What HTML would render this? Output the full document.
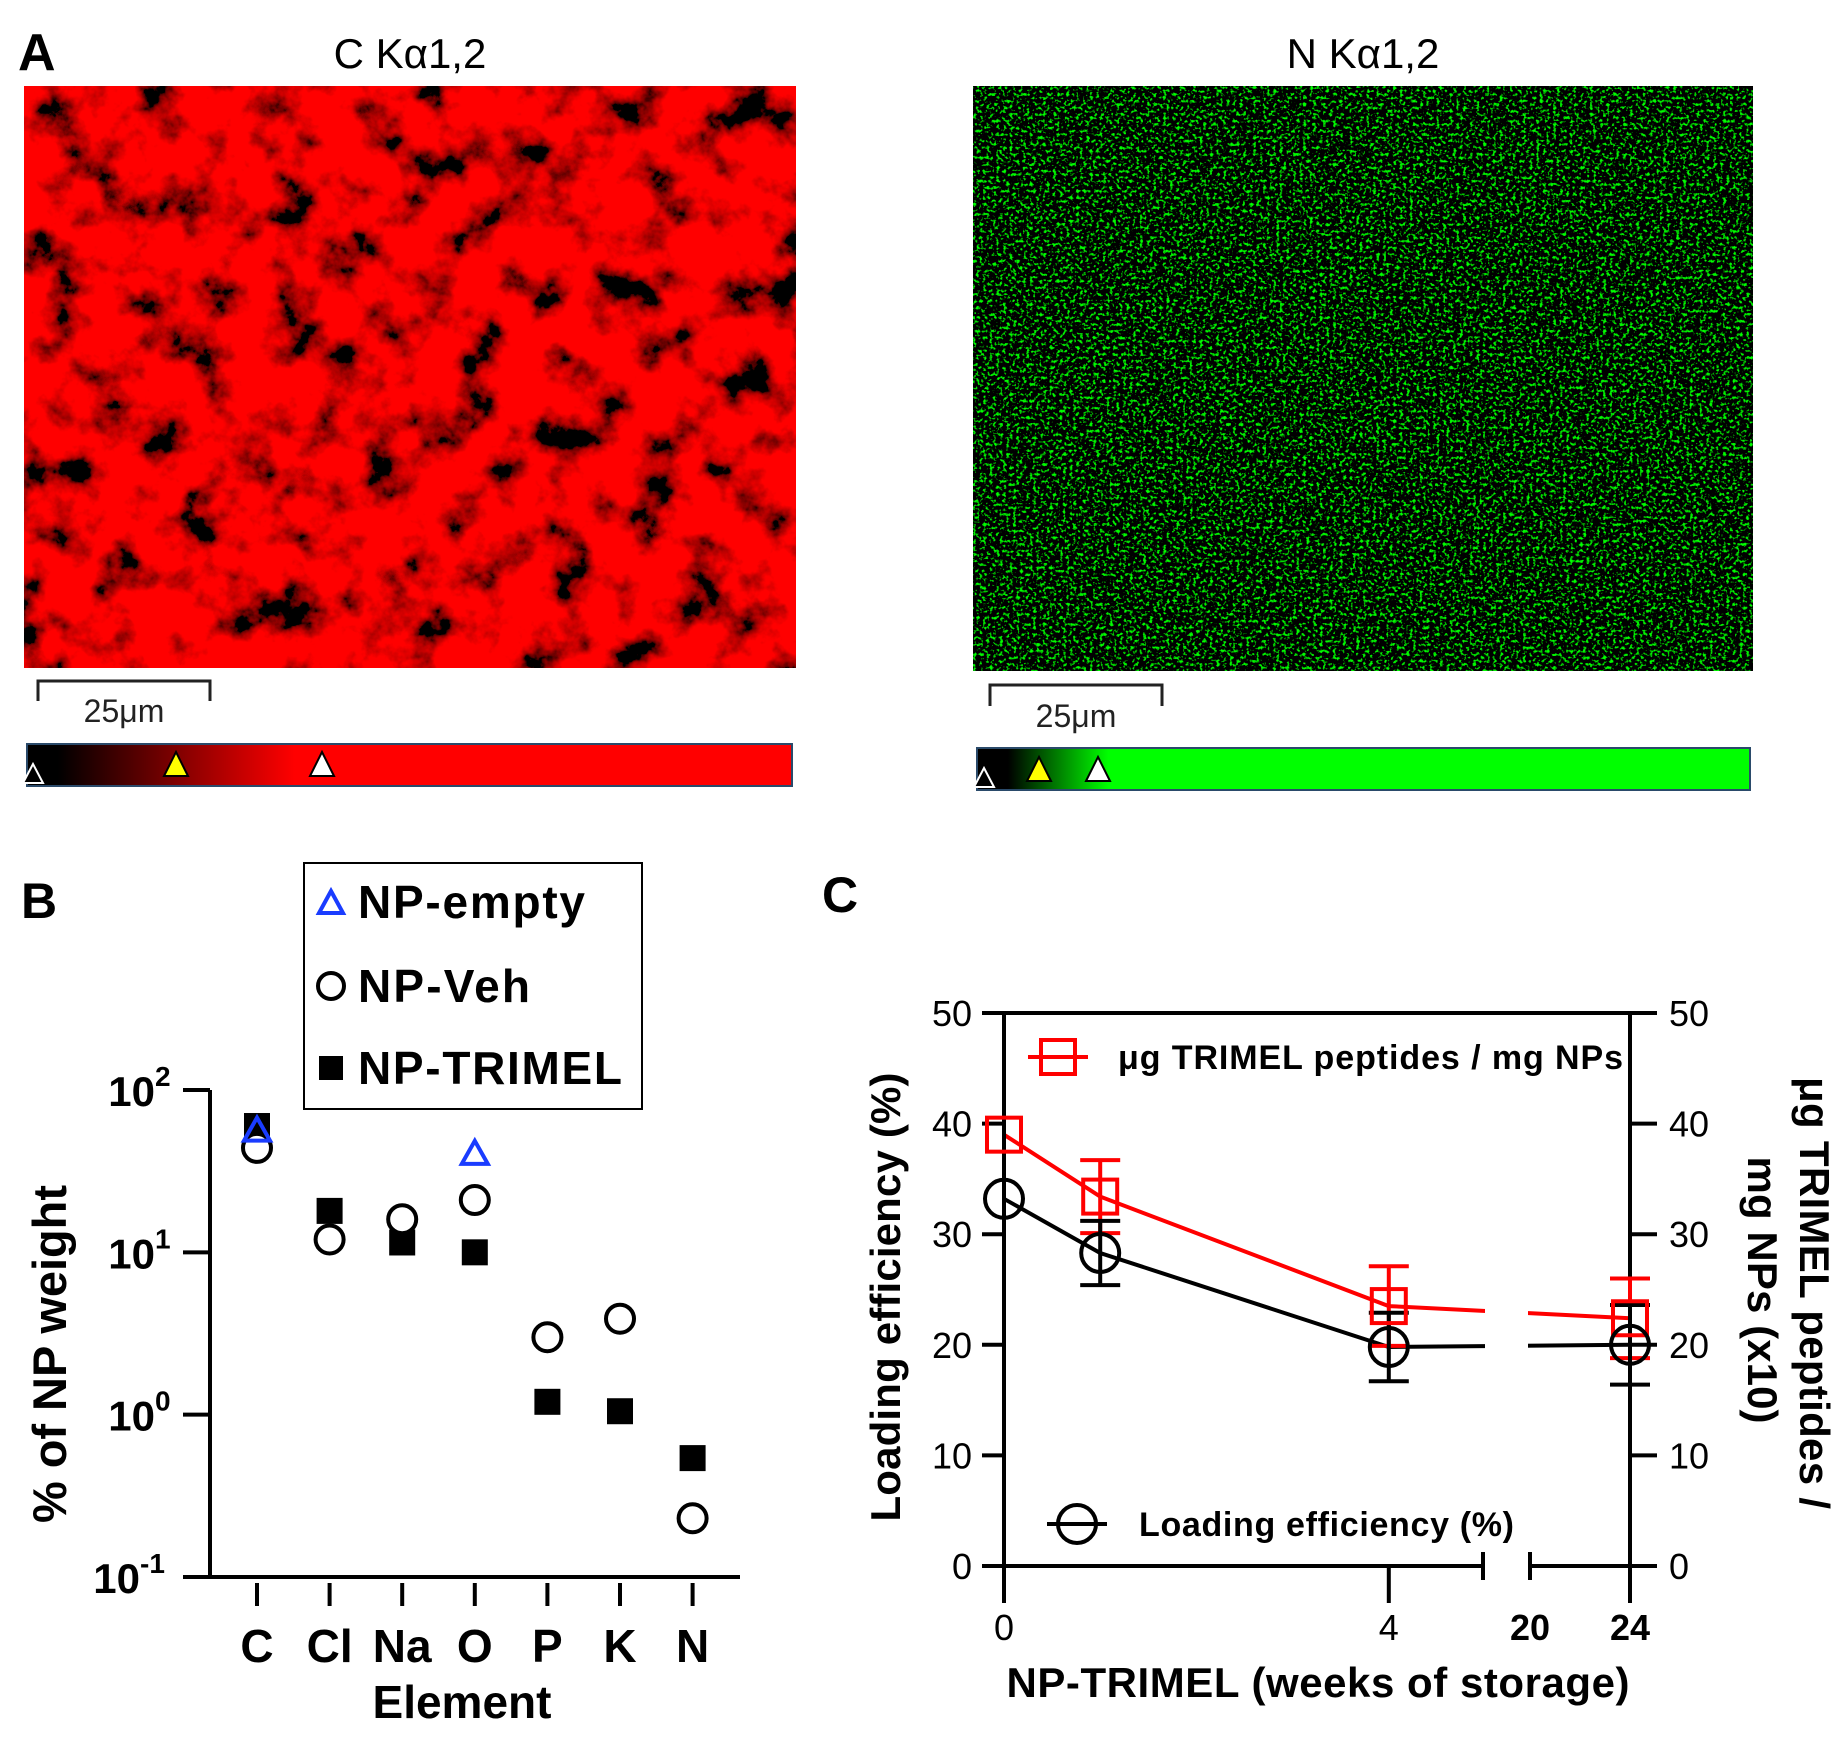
<!DOCTYPE html>
<html><head><meta charset="utf-8">
<style>
html,body{margin:0;padding:0;background:#fff;}
svg{display:block;}
text{font-family:"Liberation Sans",sans-serif;}
.n{font-family:"Liberation Sans Narrow","Liberation Sans",sans-serif;}
</style></head>
<body>
<svg id="fig" width="1846" height="1737" viewBox="0 0 1846 1737" xmlns="http://www.w3.org/2000/svg">
<defs>
<filter id="redTex" x="0" y="0" width="100%" height="100%">
<feTurbulence type="fractalNoise" baseFrequency="0.022" numOctaves="5" seed="7"/>
<feColorMatrix type="matrix" values="4.0 0 0 0 -1.15  0 0 0 0 0  0 0 0 0 0  0 0 0 0 1"/>
</filter>
<filter id="greenTex" x="0" y="0" width="100%" height="100%">
<feTurbulence type="fractalNoise" baseFrequency="0.3" numOctaves="2" seed="3"/>
<feColorMatrix type="matrix" values="0 0 0 0 0  0 5 0 0 -2.75  0 0 0 0 0  0 0 0 0 1"/>
</filter>
<linearGradient id="redGrad" x1="0" x2="1"><stop offset="0" stop-color="#000"/><stop offset="0.04" stop-color="#000"/><stop offset="0.35" stop-color="#ff0000"/><stop offset="1" stop-color="#ff0000"/></linearGradient>
<linearGradient id="greenGrad" x1="0" x2="1"><stop offset="0" stop-color="#000"/><stop offset="0.04" stop-color="#000"/><stop offset="0.17" stop-color="#00ff00"/><stop offset="1" stop-color="#00ff00"/></linearGradient>
</defs>

<!-- Panel A -->
<g>
<text x="18" y="70" font-size="52" font-weight="bold">A</text>
<text x="410" y="68" font-size="42" text-anchor="middle">C Kα1,2</text>
<rect x="24" y="86" width="772" height="582" fill="#c00" filter="url(#redTex)"/>
<path d="M38,701 V681 H210 V701" fill="none" stroke="#222" stroke-width="3"/>
<text x="124" y="722" font-size="32" text-anchor="middle" fill="#222">25μm</text>
<rect x="27" y="744" width="765" height="42" fill="url(#redGrad)" stroke="#2a4a6a" stroke-width="2"/>
<polygon points="33,764 43,783 23,783" fill="#000" stroke="#fff" stroke-width="2"/>
<polygon points="176,752 188,776 164,776" fill="#ff0" stroke="#000" stroke-width="2"/>
<polygon points="322,752 334,776 310,776" fill="#fff" stroke="#000" stroke-width="2"/>

<text x="1363" y="68" font-size="42" text-anchor="middle">N Kα1,2</text>
<rect x="973" y="86" width="780" height="585" fill="#000"/>
<rect x="973" y="86" width="780" height="585" filter="url(#greenTex)"/>
<path d="M990,706 V685 H1162 V706" fill="none" stroke="#222" stroke-width="3"/>
<text x="1076" y="727" font-size="32" text-anchor="middle" fill="#222">25μm</text>
<rect x="977" y="748" width="773" height="42" fill="url(#greenGrad)" stroke="#2a4a6a" stroke-width="2"/>
<polygon points="984,768 994,787 974,787" fill="#000" stroke="#fff" stroke-width="2"/>
<polygon points="1039,757 1051,781 1027,781" fill="#ff0" stroke="#000" stroke-width="2"/>
<polygon points="1098,757 1110,781 1086,781" fill="#fff" stroke="#000" stroke-width="2"/>
</g>

<g id="panelB"></g>
<g id="panelC"></g>
</svg>

<script>
// ---------- Panel B data ----------
const elements = ["C","Cl","Na","O","P","K","N"];
const npEmpty = [57, null, null, 41, null, null, null];
const npVeh = [44, 12, 16, 21, 3.0, 3.9, 0.23];
const npTrimel = [60, 18, 11.5, 10, 1.2, 1.05, 0.54];
const bTickExps = ["2","1","0","-1"];

// ---------- Panel C data ----------
const weeks = [0, 1, 4, 24];
const loadEff = [33.2, 28.3, 19.8, 20.0];
const loadEffErr = [0, 2.9, 3.1, 3.6];
const peptide = [39.0, 33.4, 23.5, 22.4];
const peptideErr = [0, 3.3, 3.6, 3.6];
const cTicks = [0, 10, 20, 30, 40, 50];
const xTickWeeks = [0, 4, 20, 24];

const NS = "http://www.w3.org/2000/svg";
function mk(parent, tag, attrs, txt){
  const e = document.createElementNS(NS, tag);
  for (const k in attrs) e.setAttribute(k, attrs[k]);
  if (txt !== undefined) e.textContent = txt;
  parent.appendChild(e);
  return e;
}

// ---------- Panel B ----------
(function(){
  const g = document.getElementById('panelB');
  const x0 = 210, x1 = 740, yTop = 1090, yBot = 1577;
  const catX = i => 257 + i * 72.6;
  const yB = v => yBot - (Math.log10(v) + 1) / 3 * (yBot - yTop);

  let t = mk(g,'text',{x:21,y:918,'font-size':50,'font-weight':'bold'},'B');
  
  

  let ax = mk(g,'path',{d:`M${x0},${yTop} V${yBot} H${x1}`,fill:'none',stroke:'#000','stroke-width':4});
  
  

  bTickExps.forEach((ex) => {
    const v = Math.pow(10, +ex);
    const y = yB(v);
    const tk = mk(g,'line',{x1:183,x2:x0,y1:y,y2:y,stroke:'#000','stroke-width':4});
    
    
    const lb = mk(g,'text',{x:ex==="-1"?140:155,y:y+16,'font-size':42,'font-weight':'bold','text-anchor':'end'},'10');
    
    
    const sp = mk(g,'text',{x:ex==="-1"?140:155,y:y-4,'font-size':28,'font-weight':'bold'},ex);
    
    
  });

  elements.forEach((el,i) => {
    const x = catX(i);
    const tk = mk(g,'line',{x1:x,x2:x,y1:1583,y2:1606,stroke:'#000','stroke-width':4});
    
    
    const lb = mk(g,'text',{x:x,y:1662,'font-size':46,'font-weight':'bold','text-anchor':'middle'},el);
    
    
  });

  t = mk(g,'text',{x:462,y:1718,'font-size':46,'font-weight':'bold','text-anchor':'middle'},'Element');
  
  
  t = mk(g,'text',{x:0,y:0,'font-size':47,'font-weight':'bold','text-anchor':'middle',textLength:338,transform:'translate(66,1354) rotate(-90)'},'% of NP weight');
  
  

  npTrimel.forEach((v,i) => {
    if (v == null) return;
    const m = mk(g,'rect',{x:catX(i)-13,y:yB(v)-13,width:26,height:26,fill:'#000'});
    
    
  });
  npVeh.forEach((v,i) => {
    if (v == null) return;
    const m = mk(g,'circle',{cx:catX(i),cy:yB(v),r:14,fill:'#fff',stroke:'#000','stroke-width':4});
    
    
  });
  npEmpty.forEach((v,i) => {
    if (v == null) return;
    const x = catX(i), y = yB(v);
    const m = mk(g,'polygon',{points:`${x},${y-12} ${x+13},${y+11} ${x-13},${y+11}`,fill:'none',stroke:'#1a3cff','stroke-width':4});
    
    
  });

  const lg = mk(g,'g',{});
  
  
  const bx = mk(lg,'rect',{x:304,y:863,width:338,height:246,fill:'#fff',stroke:'#000','stroke-width':2});
  
  
  let m = mk(lg,'polygon',{points:'331,891 343,913 319,913',fill:'none',stroke:'#1a3cff','stroke-width':4});
  
  
  m = mk(lg,'circle',{cx:331,cy:986,r:13,fill:'#fff',stroke:'#000','stroke-width':4});
  
  
  m = mk(lg,'rect',{x:319,y:1056,width:24,height:24,fill:'#000'});
  
  
  const labs = [['NP-empty',918,227],['NP-Veh',1002,172],['NP-TRIMEL',1084,264]];
  labs.forEach(([s,y,w]) => {
    const e = mk(lg,'text',{x:358,y:y,'font-size':46,'font-weight':'bold',textLength:w},s);
    
    
  });
})();

// ---------- Panel C ----------
(function(){
  const g = document.getElementById('panelC');
  const xL = 1004, xR = 1630, yTop = 1013, yBot = 1566;
  const breakL = 1483, breakR = 1530;
  const xC = w => w <= 5 ? xL + w * 96.2 : breakR + (w - 20) * 25;
  const yC = v => yBot - v / 50 * (yBot - yTop);

  let t = mk(g,'text',{x:822,y:912,'font-size':50,'font-weight':'bold'},'C');
  
  

  const linePts = (arr) => weeks.map((w,i) => `${xC(w)},${yC(arr[i])}`).join(' ');
  let l = mk(g,'polyline',{points:linePts(peptide),fill:'none',stroke:'#ff0000','stroke-width':4});
  
  
  l = mk(g,'polyline',{points:linePts(loadEff),fill:'none',stroke:'#000','stroke-width':4});
  
  
  const gap = mk(g,'rect',{x:breakL+2,y:yTop+5,width:breakR-breakL-4,height:yBot-yTop-10,fill:'#fff'});
  
  

  let a = mk(g,'path',{d:`M${xL},${yBot} V${yTop} H${xR} V${yBot}`,fill:'none',stroke:'#000','stroke-width':4});
  
  
  a = mk(g,'path',{d:`M${xL},${yBot} H${breakL} M${breakL},1552 V1580 M${breakR},1552 V1580 M${breakR},${yBot} H${xR}`,fill:'none',stroke:'#000','stroke-width':4});
  
  

  cTicks.forEach(v => {
    const y = yC(v);
    let e = mk(g,'line',{x1:982,x2:xL,y1:y,y2:y,stroke:'#000','stroke-width':4});
    
    
    e = mk(g,'line',{x1:xR,x2:1657,y1:y,y2:y,stroke:'#000','stroke-width':4});
    
    
    e = mk(g,'text',{x:972,y:y+13,'font-size':36,'text-anchor':'end','class':'n'},String(v));
    
    
    e = mk(g,'text',{x:1669,y:y+13,'font-size':36,'class':'n'},String(v));
    
    
  });

  xTickWeeks.forEach(w => {
    const x = xC(w);
    const bold = w >= 20;
    if (w !== 20) {
      const e = mk(g,'line',{x1:x,x2:x,y1:yBot,y2:1603,stroke:'#000','stroke-width':4});
      
      
    }
    const e = mk(g,'text',{x:x,y:1640,'font-size':36,'text-anchor':'middle','font-weight':bold?'bold':'normal','class':'n'},String(w));
    
    
  });

  function errBars(arr, err, color, name){
    weeks.forEach((w,i) => {
      if (!err[i]) return;
      const x = xC(w), y1 = yC(arr[i]-err[i]), y2 = yC(arr[i]+err[i]);
      const e = mk(g,'path',{d:`M${x},${y1} V${y2} M${x-20},${y1} H${x+20} M${x-20},${y2} H${x+20}`,fill:'none',stroke:color,'stroke-width':4});
      
      
    });
  }
  errBars(peptide, peptideErr, '#ff0000', 'peptide-error-bar');
  errBars(loadEff, loadEffErr, '#000', 'loading-efficiency-error-bar');
  weeks.forEach((w,i) => {
    const e = mk(g,'rect',{x:xC(w)-17,y:yC(peptide[i])-17,width:34,height:34,fill:'none',stroke:'#ff0000','stroke-width':4});
    
    
  });
  weeks.forEach((w,i) => {
    const e = mk(g,'circle',{cx:xC(w),cy:yC(loadEff[i]),r:19,fill:'none',stroke:'#000','stroke-width':4});
    
    
  });

  let e = mk(g,'path',{d:'M1028,1057 H1088 M1041,1040 h34 v34 h-34 z',fill:'none',stroke:'#ff0000','stroke-width':4});
  
  
  e = mk(g,'text',{x:1118,y:1069,'font-size':34,'font-weight':'bold',textLength:505,'class':'n'},'μg TRIMEL peptides / mg NPs');
  
  
  e = mk(g,'path',{d:'M1047,1524 H1107',fill:'none',stroke:'#000','stroke-width':4});
  
  
  e = mk(g,'circle',{cx:1077,cy:1524,r:19,fill:'none',stroke:'#000','stroke-width':4});
  
  
  e = mk(g,'text',{x:1139,y:1536,'font-size':34,'font-weight':'bold',textLength:375,'class':'n'},'Loading efficiency (%)');
  
  

  e = mk(g,'text',{x:0,y:0,'font-size':42,'font-weight':'bold','text-anchor':'middle',textLength:449,'class':'n',transform:'translate(900,1297) rotate(-90)'},'Loading efficiency (%)');
  
  
  e = mk(g,'text',{x:0,y:0,'font-size':42,'font-weight':'bold','text-anchor':'middle',textLength:432,'class':'n',transform:'translate(1800,1293) rotate(90)'},'μg TRIMEL peptides /');
  
  
  e = mk(g,'text',{x:0,y:0,'font-size':42,'font-weight':'bold','text-anchor':'middle',textLength:267,'class':'n',transform:'translate(1748,1290) rotate(90)'},'mg NPs (x10)');
  
  
  e = mk(g,'text',{x:1318,y:1697,'font-size':42,'font-weight':'bold','text-anchor':'middle',textLength:623,'class':'n'},'NP-TRIMEL (weeks of storage)');
  
  
})();
</script>
</body></html>
